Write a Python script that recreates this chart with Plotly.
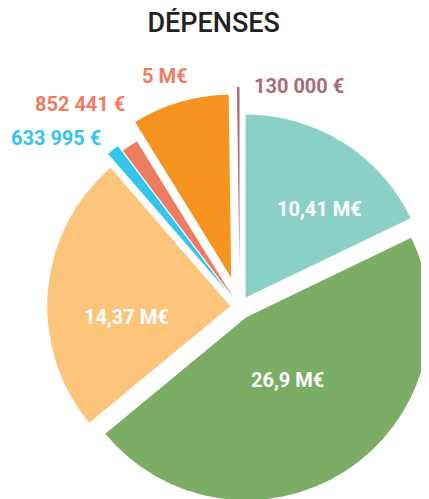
import plotly.graph_objects as go

# ---- data ----
categories = ["Poste A", "Poste B", "Poste C", "Poste D", "Poste E", "Poste F", "Poste G"]
values = [10_410_000, 26_900_000, 14_370_000, 633_995, 852_441, 5_000_000, 130_000]
value_labels = ["10,41 M€", "26,9 M€", "14,37 M€", "633 995 €", "852 441 €", "5 M€", "130 000 €"]
colors = ["#8BD0C6", "#7BAE64", "#FCC57B", "#35C4EE", "#EE7C61", "#F6941F", "#A86D74"]
label_colors = ["#FFFFFF", "#FFFFFF", "#FFFFFF", "#35C4EE", "#EE7C61", "#EE7C61", "#A86D74"]
pulls = [0.061, 0.066, 0.052, 0.104, 0.066, 0.167, 0.202]

OFF = 8  # page body margin
W, H = 452, 519
FONT = "Roboto"

fig = go.Figure()
fig.add_trace(go.Pie(
    labels=categories,
    values=values,
    sort=False,
    direction="clockwise",
    rotation=0,
    pull=pulls,
    marker=dict(colors=colors, line=dict(width=0)),
    textinfo="none",
    domain=dict(x=[11.5 / W, 1.0], y=[0.0, 1 - 79 / H]),
    showlegend=False,
    hoverinfo="skip",
))

# label centres in window pixels
label_pos = [(319, 209), (287, 380), (126, 316.5), (56, 138.5), (80, 103.5), (164, 76.5), (298.5, 86.5)]
for txt, col, (px, py) in zip(value_labels, label_colors, label_pos):
    fig.add_annotation(
        x=(px - OFF) / W, y=1 - (py - OFF) / H, xref="paper", yref="paper",
        text=txt, showarrow=False,
        xanchor="center", yanchor="middle",
        font=dict(family=FONT, size=20, color=col, weight="bold"),
    )

fig.update_layout(
    width=W, height=H,
    margin=dict(l=0, r=0, t=0, b=0),
    paper_bgcolor="white", plot_bgcolor="white",
    title=dict(text="DÉPENSES", x=(213.7 - OFF) / W, xanchor="center", xref="container",
               y=1 - (23 - OFF) / H, yanchor="middle", yref="container",
               font=dict(family=FONT, size=27, color="#222222", weight=500)),
)

fig.write_html("out.html")
